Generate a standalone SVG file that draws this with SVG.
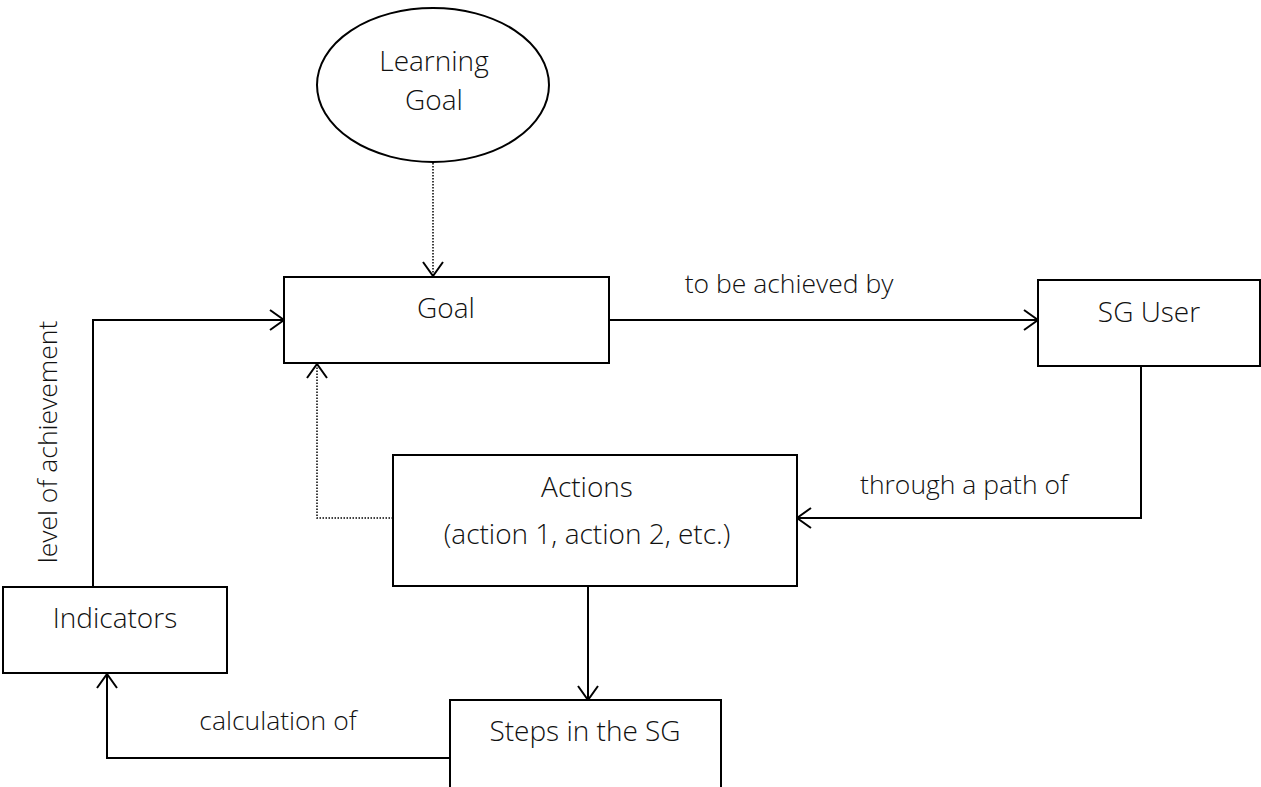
<svg xmlns="http://www.w3.org/2000/svg" width="1261" height="787" viewBox="0 0 1261 787">
<defs>
<style>
.box{fill:#fff;stroke:#000;stroke-width:2}
.ln{fill:none;stroke:#000;stroke-width:2}
.dot{fill:none;stroke:#000;stroke-width:1.5;stroke-dasharray:1.5 1.5}
.t{font-family:"Open Sans","Segoe UI","Liberation Sans",sans-serif;font-weight:300;font-size:28px;fill:#111;text-anchor:middle}
.lb{font-family:"Open Sans","Segoe UI","Liberation Sans",sans-serif;font-weight:300;font-size:26.5px;fill:#111;text-anchor:middle}
</style>
<marker id="ah" viewBox="0 0 16 22" refX="15" refY="11" markerWidth="16" markerHeight="22" markerUnits="userSpaceOnUse" orient="auto">
<path d="M1,1 L15,11 L1,21" fill="none" stroke="#000" stroke-width="2"/>
</marker>
</defs>
<g id="connectors">
<line class="dot" x1="433" y1="163" x2="433" y2="276" marker-end="url(#ah)"/>
<line class="ln" x1="609" y1="320" x2="1038" y2="320" marker-end="url(#ah)"/>
<polyline class="ln" points="1141,366 1141,518 797,518" marker-end="url(#ah)"/>
<polyline class="dot" points="393,518 317,518 317,364" marker-end="url(#ah)"/>
<line class="ln" x1="588" y1="586" x2="588" y2="700" marker-end="url(#ah)"/>
<polyline class="ln" points="450,758 107,758 107,674" marker-end="url(#ah)"/>
<polyline class="ln" points="93,587 93,320 284,320" marker-end="url(#ah)"/>
<text class="lb" x="789" y="293">to be achieved by</text>
<text class="lb" x="964" y="494">through a path of</text>
<text class="lb" x="278" y="730">calculation of</text>
<text class="lb" transform="translate(57,442) rotate(-90)">level of achievement</text>
</g>
<g id="learning-goal">
<ellipse class="box" cx="433" cy="85" rx="116" ry="77"/>
<text class="t" x="434" y="71">Learning</text>
<text class="t" x="434" y="110">Goal</text>
</g>
<g id="goal">
<rect class="box" x="284" y="277" width="325" height="86"/>
<text class="t" x="446" y="318">Goal</text>
</g>
<g id="sg-user">
<rect class="box" x="1038" y="280" width="222" height="86"/>
<text class="t" x="1149" y="322">SG User</text>
</g>
<g id="actions">
<rect class="box" x="393" y="455" width="404" height="131"/>
<text class="t" x="587" y="497">Actions</text>
<text class="t" x="587" y="544">(action 1, action 2, etc.)</text>
</g>
<g id="indicators">
<rect class="box" x="3" y="587" width="224" height="86"/>
<text class="t" x="115" y="628">Indicators</text>
</g>
<g id="steps">
<rect class="box" x="450" y="700" width="271" height="88"/>
<text class="t" x="585" y="741">Steps in the SG</text>
</g>
</svg>
